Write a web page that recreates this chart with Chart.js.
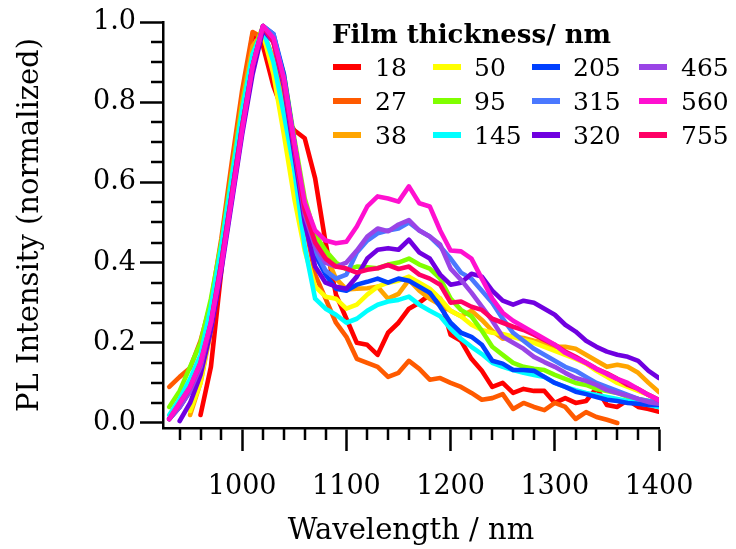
<!DOCTYPE html>
<html>
<head>
<meta charset="utf-8">
<title>PL spectra vs film thickness</title>
<script src="https://cdn.jsdelivr.net/npm/chart.js@4.4.1/dist/chart.umd.min.js"></script>
<style>
  html, body { margin: 0; padding: 0; background: #fff; }
  #wrap { width: 736px; height: 549px; }
</style>
</head>
<body>
<div id="wrap"><canvas id="plChart" width="736" height="549"></canvas></div>
<script>
// Wavelength grid (nm)
const wavelengths = [930, 940, 950, 960, 970, 980, 990, 1000,
  1010, 1020, 1030, 1040, 1050, 1060, 1070, 1080, 1090, 1100,
  1110, 1120, 1130, 1140, 1150, 1160, 1170, 1180, 1190, 1200,
  1210, 1220, 1230, 1240, 1250, 1260, 1270, 1280, 1290, 1300,
  1310, 1320, 1330, 1340, 1350, 1360, 1370, 1380, 1390, 1400];

// Film thicknesses (nm) and their trace colours
const thickness = ['18', '27', '38', '50', '95', '145', '205', '315', '320', '465', '560', '755'];
const colors = ['#ff0000', '#ff5a00', '#ffa500', '#ffff00', '#80ff00', '#00ffff',
  '#0040ff', '#4a78ff', '#7000e0', '#9a44e6', '#ff10d0', '#ff0066'];
// lower number = drawn later (on top)
const drawOrder = [12, 11, 10, 9, 8, 7, 6, 5, 4, 3, 1, 2];

// Normalized PL intensity, one array per film
const pl18 = [null, null, null, 0.02, 0.14, 0.38, 0.62, 0.80,
  0.97, 0.94, 0.84, 0.77, 0.73, 0.71, 0.61, 0.45, 0.32, 0.26,
  0.20, 0.195, 0.17, 0.225, 0.25, 0.285, 0.30, 0.32, 0.31, 0.22,
  0.205, 0.16, 0.13, 0.09, 0.10, 0.075, 0.085, 0.08, 0.08, 0.05,
  0.062, 0.05, 0.055, 0.087, 0.045, 0.04, 0.057, 0.04, 0.035, 0.028];
const pl27 = [0.09, 0.115, 0.137, 0.205, 0.30, 0.46, 0.65, 0.83,
  0.975, 0.96, 0.90, 0.80, 0.65, 0.50, 0.37, 0.31, 0.25, 0.215,
  0.16, 0.15, 0.14, 0.115, 0.125, 0.155, 0.135, 0.108, 0.112, 0.10,
  0.09, 0.075, 0.058, 0.062, 0.072, 0.035, 0.05, 0.04, 0.032, 0.05,
  0.04, 0.01, 0.027, 0.015, 0.008, 0.0, null, null, null, null];
const pl38 = [null, null, 0.02, 0.10, 0.23, 0.42, 0.62, 0.80,
  0.94, 0.975, 0.91, 0.82, 0.67, 0.52, 0.46, 0.42, 0.36, 0.333,
  0.335, 0.336, 0.34, 0.31, 0.322, 0.357, 0.33, 0.31, 0.295, 0.28,
  0.266, 0.28, 0.257, 0.23, 0.21, 0.215, 0.212, 0.205, 0.20, 0.19,
  0.19, 0.185, 0.17, 0.155, 0.14, 0.145, 0.14, 0.125, 0.10, 0.077];
const pl50 = [null, null, 0.03, 0.10, 0.24, 0.40, 0.58, 0.77,
  0.92, 0.97, 0.87, 0.72, 0.56, 0.43, 0.34, 0.315, 0.31, 0.285,
  0.295, 0.32, 0.34, 0.35, 0.355, 0.365, 0.35, 0.335, 0.31, 0.28,
  0.266, 0.245, 0.232, 0.225, 0.222, 0.215, 0.207, 0.20, 0.19, 0.18,
  0.17, 0.16, 0.148, 0.13, 0.115, 0.10, 0.09, 0.08, 0.07, 0.057];
const pl95 = [0.04, 0.08, 0.14, 0.20, 0.31, 0.45, 0.62, 0.79,
  0.92, 0.99, 0.96, 0.87, 0.71, 0.56, 0.47, 0.43, 0.40, 0.383,
  0.39, 0.388, 0.386, 0.395, 0.40, 0.41, 0.395, 0.385, 0.36, 0.31,
  0.282, 0.266, 0.23, 0.19, 0.17, 0.15, 0.14, 0.135, 0.132, 0.12,
  0.11, 0.10, 0.095, 0.085, 0.08, 0.075, 0.065, 0.06, 0.055, 0.05];
const pl145 = [0.02, 0.06, 0.11, 0.17, 0.29, 0.44, 0.61, 0.78,
  0.92, 0.98, 0.90, 0.77, 0.63, 0.44, 0.31, 0.285, 0.27, 0.25,
  0.26, 0.28, 0.295, 0.303, 0.307, 0.315, 0.295, 0.28, 0.266, 0.235,
  0.21, 0.19, 0.172, 0.15, 0.14, 0.132, 0.125, 0.12, 0.115, 0.10,
  0.09, 0.082, 0.075, 0.07, 0.065, 0.06, 0.055, 0.05, 0.045, 0.04];
const pl205 = [0.01, 0.04, 0.08, 0.14, 0.24, 0.40, 0.57, 0.74,
  0.89, 0.99, 0.97, 0.87, 0.70, 0.53, 0.42, 0.37, 0.335, 0.33,
  0.345, 0.352, 0.36, 0.35, 0.36, 0.355, 0.34, 0.325, 0.29, 0.25,
  0.225, 0.215, 0.195, 0.155, 0.148, 0.132, 0.132, 0.13, 0.115, 0.10,
  0.09, 0.078, 0.072, 0.065, 0.058, 0.055, 0.05, 0.048, 0.045, 0.045];
const pl315 = [0.01, 0.04, 0.08, 0.14, 0.24, 0.39, 0.56, 0.73,
  0.88, 0.99, 0.97, 0.86, 0.70, 0.53, 0.43, 0.38, 0.36, 0.37,
  0.425, 0.455, 0.473, 0.48, 0.485, 0.50, 0.48, 0.465, 0.44, 0.41,
  0.375, 0.36, 0.33, 0.30, 0.26, 0.225, 0.205, 0.185, 0.17, 0.155,
  0.14, 0.13, 0.115, 0.10, 0.09, 0.08, 0.07, 0.06, 0.055, 0.05];
const pl320 = [null, 0.005, 0.05, 0.12, 0.23, 0.38, 0.55, 0.72,
  0.87, 0.98, 0.95, 0.84, 0.67, 0.50, 0.39, 0.35, 0.34, 0.335,
  0.365, 0.41, 0.432, 0.436, 0.432, 0.457, 0.425, 0.41, 0.37, 0.345,
  0.35, 0.372, 0.365, 0.33, 0.305, 0.295, 0.305, 0.30, 0.285, 0.27,
  0.245, 0.228, 0.205, 0.19, 0.178, 0.17, 0.165, 0.155, 0.13, 0.112];
const pl465 = [0.01, 0.04, 0.08, 0.14, 0.25, 0.40, 0.57, 0.74,
  0.89, 0.99, 0.95, 0.85, 0.69, 0.52, 0.44, 0.40, 0.39, 0.40,
  0.43, 0.465, 0.485, 0.478, 0.495, 0.506, 0.48, 0.465, 0.445, 0.385,
  0.357, 0.325, 0.29, 0.255, 0.215, 0.20, 0.185, 0.165, 0.152, 0.14,
  0.125, 0.112, 0.105, 0.095, 0.082, 0.075, 0.068, 0.06, 0.052, 0.048];
const pl560 = [0.01, 0.05, 0.09, 0.15, 0.25, 0.39, 0.56, 0.73,
  0.89, 0.99, 0.96, 0.86, 0.70, 0.55, 0.48, 0.455, 0.448, 0.452,
  0.49, 0.54, 0.565, 0.56, 0.552, 0.59, 0.548, 0.54, 0.48, 0.43,
  0.428, 0.41, 0.36, 0.31, 0.275, 0.255, 0.24, 0.225, 0.21, 0.195,
  0.175, 0.162, 0.15, 0.135, 0.122, 0.11, 0.10, 0.085, 0.07, 0.057];
const pl755 = [0.01, 0.05, 0.09, 0.15, 0.25, 0.40, 0.57, 0.74,
  0.89, 0.99, 0.95, 0.85, 0.69, 0.53, 0.45, 0.41, 0.39, 0.385,
  0.375, 0.382, 0.386, 0.394, 0.384, 0.39, 0.37, 0.36, 0.345, 0.30,
  0.303, 0.29, 0.282, 0.26, 0.25, 0.24, 0.232, 0.22, 0.207, 0.195,
  0.178, 0.165, 0.15, 0.135, 0.124, 0.11, 0.095, 0.085, 0.07, 0.057];

const seriesValues = [pl18, pl27, pl38, pl50, pl95, pl145, pl205, pl315, pl320, pl465, pl560, pl755];

// Axis ticks
const xMajorTicks = [1000, 1100, 1200, 1300, 1400];
const xMinorTicks = [940, 960, 980, 1020, 1040, 1060, 1080, 1120, 1140, 1160, 1180,
  1220, 1240, 1260, 1280, 1320, 1340, 1360, 1380];
const yMajorTicks = [0, 0.2, 0.4, 0.6, 0.8, 1.0];
const yMinorTicks = [0.05, 0.1, 0.15, 0.25, 0.3, 0.35, 0.45, 0.5, 0.55, 0.65, 0.7, 0.75, 0.85, 0.9, 0.95];

const legendTitle = 'Film thickness/ nm';

Chart.defaults.font.family = '"DejaVu Serif", serif';
Chart.defaults.color = '#000';

// short minor tick marks on both axes
const minorTicks = {
  id: 'minorTicks',
  afterDraw(chart) {
    const { ctx, scales: { x, y } } = chart;
    ctx.save();
    ctx.strokeStyle = '#000';
    ctx.lineWidth = 2.5;
    ctx.beginPath();
    xMinorTicks.forEach(v => {
      const px = Math.round(x.getPixelForValue(v));
      ctx.moveTo(px, x.top);
      ctx.lineTo(px, x.top + 12);
    });
    yMinorTicks.forEach(v => {
      const py = Math.round(y.getPixelForValue(v));
      ctx.moveTo(y.right, py);
      ctx.lineTo(y.right - 12, py);
    });
    ctx.stroke();
    ctx.restore();
  }
};

// three-row, four-column legend filled column by column
const thicknessLegend = {
  id: 'thicknessLegend',
  afterDraw(chart) {
    const ctx = chart.ctx;
    const colX = [333, 433, 532, 639];
    const textX = [375, 474, 573, 681];
    const rowY = [67, 101, 135];
    ctx.save();
    ctx.fillStyle = '#000';
    ctx.textBaseline = 'alphabetic';
    ctx.textAlign = 'left';
    ctx.font = 'bold 26px "DejaVu Serif"';
    ctx.fillText(legendTitle, 332, 43);
    ctx.font = '25px "DejaVu Serif"';
    chart.data.datasets.forEach((ds, i) => {
      const col = Math.floor(i / 3), row = i % 3;
      const cy = rowY[row];
      ctx.fillStyle = ds.borderColor;
      ctx.fillRect(colX[col], cy - 3, 28, 6);
      ctx.fillStyle = '#000';
      ctx.fillText(ds.label, textX[col], cy + 9);
    });
    ctx.restore();
  }
};

new Chart(document.getElementById('plChart'), {
  type: 'line',
  data: {
    datasets: thickness.map((t, i) => ({
      label: t,
      data: seriesValues[i].map((v, k) => ({ x: wavelengths[k], y: v })),
      borderColor: colors[i],
      backgroundColor: colors[i],
      borderWidth: 4.6,
      borderJoinStyle: 'round',
      borderCapStyle: 'round',
      tension: 0,
      pointRadius: 0,
      pointHoverRadius: 0,
      order: drawOrder[i],
      fill: false
    }))
  },
  options: {
    responsive: false,
    animation: false,
    devicePixelRatio: 1,
    layout: { padding: { left: 0, top: 22, right: 77, bottom: 0 } },
    plugins: { legend: { display: false }, tooltip: { enabled: false } },
    scales: {
      x: {
        type: 'linear',
        min: 924,
        max: 1400,
        afterFit: s => { s.height = 121; },
        afterBuildTicks: s => { s.ticks = xMajorTicks.map(v => ({ value: v })); },
        ticks: { padding: 20, color: '#000', font: { size: 27 }, maxRotation: 0, callback: v => String(v) },
        grid: { drawOnChartArea: false, drawTicks: true, tickLength: 23, tickWidth: 2.5, tickColor: '#000' },
        border: { display: true, color: '#000', width: 2.5 },
        title: { display: true, text: 'Wavelength / nm', color: '#000', font: { size: 29 }, padding: { top: 0, bottom: 0 } }
      },
      y: {
        type: 'linear',
        min: -0.0125,
        max: 1.0,
        afterFit: s => { s.width = 163; },
        afterBuildTicks: s => { s.ticks = yMajorTicks.map(v => ({ value: v })); },
        ticks: { padding: 4, color: '#000', font: { size: 27 }, callback: v => v.toFixed(1) },
        grid: { drawOnChartArea: false, drawTicks: true, tickLength: 23, tickWidth: 2.5, tickColor: '#000' },
        border: { display: true, color: '#000', width: 2.5 },
        title: { display: true, text: 'PL Intensity (normalized)', color: '#000', font: { size: 29 }, padding: { top: 13, bottom: 0 } }
      }
    }
  },
  plugins: [minorTicks, thicknessLegend]
});
</script>
</body>
</html>
